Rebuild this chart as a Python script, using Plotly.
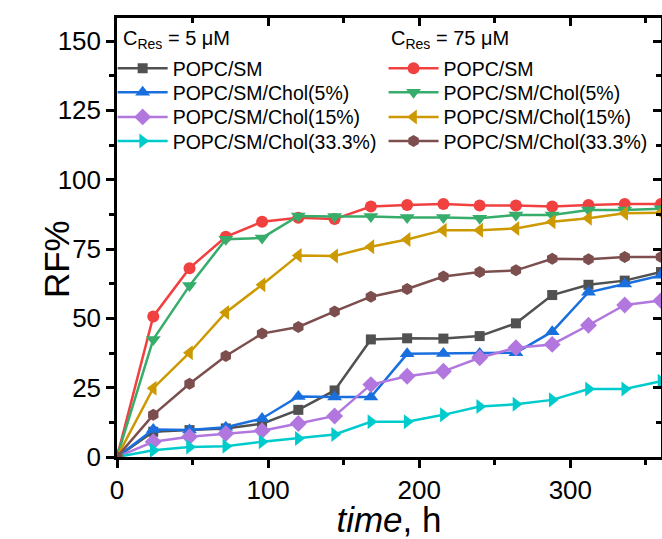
import plotly.graph_objects as go

time_h = [0, 24, 48, 72, 96, 120, 144, 168, 192, 216, 240, 264, 288, 312, 336, 360]

low_labels = ["POPC/SM", "POPC/SM/Chol(5%)", "POPC/SM/Chol(15%)", "POPC/SM/Chol(33.3%)"]
high_labels = ["POPC/SM", "POPC/SM/Chol(5%)", "POPC/SM/Chol(15%)", "POPC/SM/Chol(33.3%)"]
headings = ["C<sub>Res</sub> = 5 μM", "C<sub>Res</sub> = 75 μM"]

# C_Res = 5 uM
low_popc_sm = [0, 9.1, 9.7, 10.3, 12.0, 17.0, 24.0, 42.4, 42.8, 42.7, 43.6, 48.2, 58.4, 62.1, 63.6, 66.7]
low_chol5 = [0, 9.9, 9.7, 10.7, 13.9, 21.8, 21.6, 21.6, 37.2, 37.3, 37.3, 37.6, 45.2, 59.4, 62.4, 65.5]
low_chol15 = [0, 5.5, 7.3, 8.5, 9.5, 12.1, 14.8, 26.1, 29.1, 30.9, 35.8, 39.4, 40.6, 47.5, 54.8, 56.4]
low_chol33 = [0, 2.4, 3.6, 3.9, 5.5, 6.7, 8.1, 12.7, 12.7, 15.2, 18.2, 19.0, 20.6, 24.5, 24.5, 27.3]

# C_Res = 75 uM
high_popc_sm = [0, 50.7, 68.1, 79.4, 84.8, 86.3, 85.8, 90.3, 90.9, 91.2, 90.7, 90.7, 90.3, 90.9, 91.2, 91.2]
high_chol5 = [0, 42.4, 61.8, 78.5, 79.0, 86.9, 86.7, 86.7, 86.4, 86.4, 86.1, 87.3, 87.3, 89.1, 89.1, 89.5]
high_chol15 = [0, 24.8, 37.6, 52.1, 62.1, 72.7, 72.5, 75.8, 78.4, 81.8, 81.8, 82.4, 84.8, 86.1, 87.9, 88.1]
high_chol33 = [0, 15.2, 26.4, 36.4, 44.5, 46.9, 52.5, 57.8, 60.6, 65.1, 66.7, 67.3, 71.5, 71.3, 72.1, 72.1]

x_ticks = [0, 100, 200, 300]
y_ticks = [0, 25, 50, 75, 100, 125, 150]
x_minor = [50, 150, 250, 350]
y_minor = [12.5, 37.5, 62.5, 87.5, 112.5, 137.5]

FONT = "Arial, 'Liberation Sans', sans-serif"

low_series = [
    (low_labels[0], low_popc_sm, "#515151", "square", 10),
    (low_labels[1], low_chol5, "#1A6FDF", "triangle-up", 13),
    (low_labels[2], low_chol15, "#B177DE", "diamond", 13),
    (low_labels[3], low_chol33, "#00CBCC", "triangle-right", 13),
]
high_series = [
    (high_labels[0], high_popc_sm, "#F14040", "circle", 12),
    (high_labels[1], high_chol5, "#37AD6B", "triangle-down", 13),
    (high_labels[2], high_chol15, "#CC9900", "triangle-left", 13),
    (high_labels[3], high_chol33, "#7D4E4E", "hexagon", 12),
]

# legend layout (paper coords)
row_y = [0.885, 0.830, 0.774, 0.719]
col_x = [-0.008, 0.490]
heading_x = [0.007, 0.500]
heading_y = 0.95

fig = go.Figure()
legends = {}
idx = 0
for col, series in enumerate((low_series, high_series)):
    for row, (name, vals, color, sym, size) in enumerate(series):
        idx += 1
        lname = "legend" if idx == 1 else f"legend{idx}"
        fig.add_trace(go.Scatter(
            x=time_h, y=vals, name=name, mode="lines+markers",
            line=dict(color=color, width=2.5),
            marker=dict(symbol=sym, size=size, color=color, line=dict(width=0)),
            legend=lname, showlegend=True,
        ))
        legends[lname] = dict(
            x=col_x[col], y=row_y[row], xanchor="left", yanchor="middle",
            bgcolor="rgba(0,0,0,0)", borderwidth=0,
            font=dict(family=FONT, size=19.5, color="black"),
            itemwidth=50,
        )

# overlay axes for inward ticks on top/right
fig.add_trace(go.Scatter(x=[], y=[], xaxis="x2", yaxis="y2", showlegend=False))

axis_common = dict(
    showline=True, linecolor="black", linewidth=2.5,
    ticks="outside", tickwidth=2.5, ticklen=8, tickcolor="black",
    showgrid=False, zeroline=False,
    tickfont=dict(family=FONT, size=26, color="black"),
)

fig.update_layout(
    width=662, height=539,
    margin=dict(l=117, r=1, t=18, b=82),
    paper_bgcolor="white", plot_bgcolor="white",
    font=dict(family=FONT, color="black"),
    showlegend=True,
    xaxis=dict(
        range=[0, 360], tickvals=x_ticks,
        minor=dict(tickvals=x_minor, ticks="outside", ticklen=5, tickwidth=2.5, tickcolor="black"),
        title=dict(text="<i>time</i>, h", font=dict(family=FONT, size=35, color="black"), standoff=6),
        **axis_common,
    ),
    yaxis=dict(
        range=[0, 158.3], tickvals=y_ticks,
        minor=dict(tickvals=y_minor, ticks="outside", ticklen=5, tickwidth=2.5, tickcolor="black"),
        **axis_common,
    ),
    xaxis2=dict(
        overlaying="x", side="top", range=[0, 360], tickvals=x_ticks,
        showline=True, linecolor="black", linewidth=2.5,
        ticks="inside", tickwidth=2.5, ticklen=8, tickcolor="black",
        minor=dict(tickvals=x_minor, ticks="inside", ticklen=5, tickwidth=2.5, tickcolor="black"),
        showticklabels=False, showgrid=False, zeroline=False,
    ),
    yaxis2=dict(
        overlaying="y", side="right", range=[0, 158.3], tickvals=y_ticks,
        showline=True, linecolor="black", linewidth=2.5,
        ticks="inside", tickwidth=2.5, ticklen=8, tickcolor="black",
        minor=dict(tickvals=y_minor, ticks="inside", ticklen=5, tickwidth=2.5, tickcolor="black"),
        showticklabels=False, showgrid=False, zeroline=False,
    ),
    **legends,
)

# y-axis title placed as annotation (sits between tick label column and edge)
fig.add_annotation(
    text="RF%", textangle=-90, xref="paper", yref="paper",
    x=-0.112, y=0.451, xanchor="center", yanchor="middle", showarrow=False,
    font=dict(family=FONT, size=35, color="black"),
)
for hx, htxt in zip(heading_x, headings):
    fig.add_annotation(
        text=htxt, xref="paper", yref="paper", x=hx, y=heading_y,
        xanchor="left", yanchor="middle", showarrow=False,
        font=dict(family=FONT, size=20, color="black"),
    )

fig.write_html("out.html")
